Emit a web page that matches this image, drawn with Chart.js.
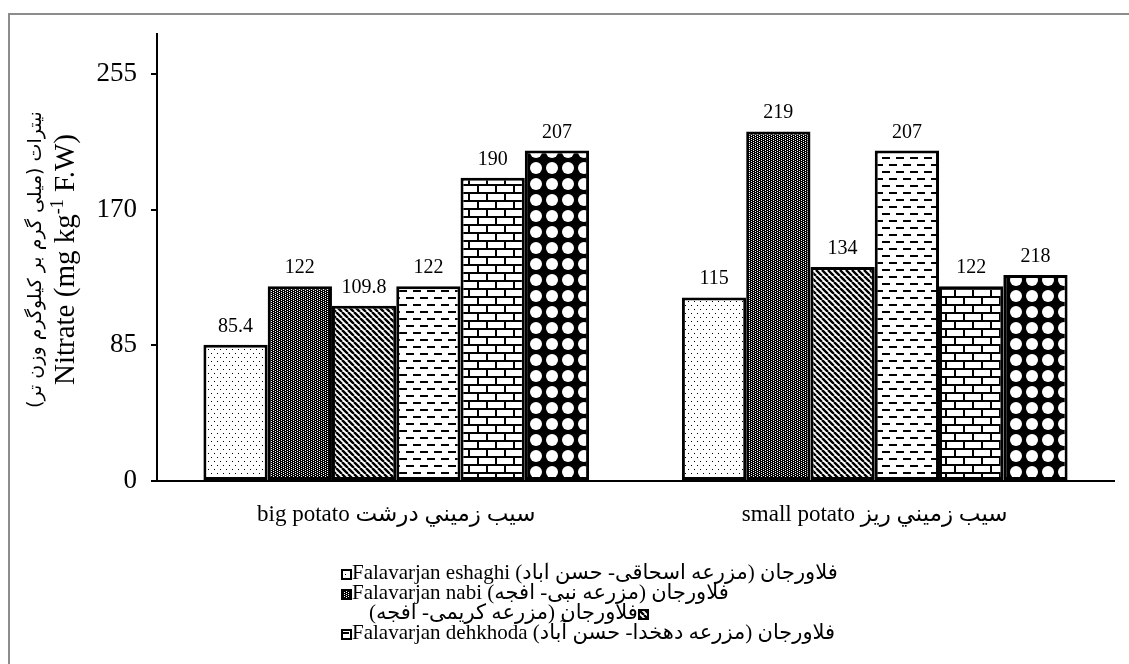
<!DOCTYPE html>
<html lang="fa">
  <head>
    <meta charset="UTF-8" />
    <title>Nitrate</title>
    <script src="https://cdn.jsdelivr.net/npm/chart.js"></script>
    <style>
      body {
        margin: 0;
        background: #fff;
        width: 1129px;
        height: 664px;
        overflow: hidden;
        position: relative;
        font-family: "Liberation Serif", "DejaVu Sans", serif;
      }
      .frame {
        position: absolute;
        left: 8px;
        top: 13px;
        width: 1200px;
        height: 700px;
        border-top: 2px solid #8c8c8c;
        border-left: 2px solid #8c8c8c;
      }
      #wrap {
        position: absolute;
        left: 0;
        top: 0;
      }
      #legend {
        position: absolute;
        left: 341px;
        top: 562px;
        height: 82px;
        overflow: hidden;
        font-size: 21px;
        line-height: 20px;
        color: #000;
      }
      #legend .row {
        white-space: nowrap;
        height: 20px;
      }
      #legend .row > span {
        display: inline-block;
      }
      #legend canvas {
        vertical-align: -1px;
      }
    </style>
  </head>
  <body>
    <div class="frame"></div>
    <div id="wrap"><canvas id="chart" width="1129" height="664"></canvas></div>
    <div id="legend"></div>

    <script>
      // données
      const categories = ["big potato سيب زميني درشت", "small potato سيب زميني ريز"];
      const seriesNames = [
        "فلاورجان (مزرعه اسحاقی- حسن آباد) Falavarjan eshaghi",
        "فلاورجان (مزرعه نبی- افجه) Falavarjan nabi",
        "فلاورجان (مزرعه کریمی- افجه)",
        "فلاورجان (مزرعه دهخدا- حسن آباد) Falavarjan dehkhoda",
        "Series 5",
        "Series 6",
      ];
      const eshaghi = [85.4, 115];
      const nabi = [122, 219];
      const karimi = [109.8, 134];
      const dehkhoda = [122, 207];
      const serie5 = [190, 122];
      const serie6 = [207, 129];
      // étiquettes affichées au-dessus des barres (telles qu'écrites sur la figure)
      const barLabels = [
        ["85.4", "115"],
        ["122", "219"],
        ["109.8", "134"],
        ["122", "207"],
        ["190", "122"],
        ["207", "218"],
      ];
      const yTicks = [0, 85, 170, 255];
      const yMax = 280;
      const yTitleFa = "نیترات (میلی گرم بر کیلوگرم وزن تر)";
      const yTitleEn = ["Nitrate (mg kg", "-1", " F.W)"];

      const FONT = "'Liberation Serif', 'DejaVu Sans', serif";

      function tile(w, h, draw) {
        const c = document.createElement("canvas");
        c.width = w;
        c.height = h;
        const g = c.getContext("2d");
        draw(g, w, h);
        return g.createPattern(c, "repeat");
      }

      const patterns = [
        // points clairsemés
        tile(6, 8, (g) => {
          g.fillStyle = "#fff";
          g.fillRect(0, 0, 6, 8);
          g.fillStyle = "#000";
          g.fillRect(1, 1, 1, 1);
          g.fillRect(4, 5, 1, 1);
        }),
        // trame dense sombre
        tile(4, 4, (g) => {
          g.fillStyle = "#000";
          g.fillRect(0, 0, 4, 4);
          g.fillStyle = "#fff";
          g.fillRect(1, 0, 1, 1);
          g.fillRect(1, 2, 1, 1);
          g.fillRect(3, 1, 1, 1);
          g.fillRect(3, 3, 1, 1);
        }),
        // diagonales
        tile(6, 6, (g) => {
          g.fillStyle = "#fff";
          g.fillRect(0, 0, 6, 6);
          g.strokeStyle = "#000";
          g.lineWidth = 2.4;
          g.beginPath();
          [-6, 0, 6].forEach((k) => {
            g.moveTo(k, 0);
            g.lineTo(k + 6, 6);
          });
          g.stroke();
        }),
        // tirets horizontaux
        tile(14, 14, (g) => {
          g.fillStyle = "#fff";
          g.fillRect(0, 0, 14, 14);
          g.fillStyle = "#000";
          g.fillRect(0, 3, 8, 2);
          g.fillRect(7, 10, 8, 2);
          g.fillRect(0, 10, 1, 2);
        }),
        // briques
        tile(18, 16, (g) => {
          g.fillStyle = "#fff";
          g.fillRect(0, 0, 18, 16);
          g.fillStyle = "#000";
          g.fillRect(0, 0, 18, 2);
          g.fillRect(0, 8, 18, 2);
          g.fillRect(0, 0, 2, 8);
          g.fillRect(9, 8, 2, 8);
        }),
        // ronds blancs sur noir
        tile(16, 16, (g) => {
          g.fillStyle = "#000";
          g.fillRect(0, 0, 16, 16);
          g.fillStyle = "#fff";
          g.beginPath();
          g.arc(8, 8, 6, 0, Math.PI * 2);
          g.fill();
        }),
      ];

      const seriesData = [eshaghi, nabi, karimi, dehkhoda, serie5, serie6];

      const datasets = seriesData.map((vals, i) => ({
        label: seriesNames[i],
        data: vals,
        backgroundColor: patterns[i],
        borderColor: "#000",
        borderWidth: 3,
        borderSkipped: false,
        barPercentage: 1,
        categoryPercentage: 0.806,
      }));

      const barValuesPlugin = {
        id: "barValues",
        afterDatasetsDraw(chart) {
          const ctx = chart.ctx;
          ctx.save();
          ctx.font = "20px " + FONT;
          ctx.fillStyle = "#000";
          ctx.textAlign = "center";
          ctx.textBaseline = "alphabetic";
          chart.data.datasets.forEach((ds, i) => {
            const meta = chart.getDatasetMeta(i);
            meta.data.forEach((bar, j) => {
              ctx.fillText(barLabels[i][j], bar.x, bar.y - 13);
            });
          });
          ctx.restore();
        },
      };

      // titre de l'axe Y sur deux lignes (persan + anglais avec exposant)
      const yTitlePlugin = {
        id: "yTitle",
        afterDraw(chart) {
          const ctx = chart.ctx;
          const a = chart.chartArea;
          const cy = (a.top + a.bottom) / 2 + 2;
          ctx.save();
          ctx.fillStyle = "#000";
          ctx.textBaseline = "middle";

          ctx.save();
          ctx.translate(36, cy);
          ctx.rotate(-Math.PI / 2);
          ctx.textAlign = "center";
          ctx.font = "19px 'DejaVu Sans'";
          ctx.fillText(yTitleFa, 0, 0);
          ctx.restore();

          ctx.save();
          ctx.translate(66, cy);
          ctx.rotate(-Math.PI / 2);
          ctx.textAlign = "left";
          const big = "29px 'Liberation Serif'";
          const small = "18px 'Liberation Serif'";
          ctx.font = big;
          const w0 = ctx.measureText(yTitleEn[0]).width;
          const w2 = ctx.measureText(yTitleEn[2]).width;
          ctx.font = small;
          const w1 = ctx.measureText(yTitleEn[1]).width;
          let x = -(w0 + w1 + w2) / 2;
          ctx.font = big;
          ctx.fillText(yTitleEn[0], x, 0);
          x += w0;
          ctx.font = small;
          ctx.fillText(yTitleEn[1], x, -8);
          x += w1;
          ctx.font = big;
          ctx.fillText(yTitleEn[2], x, 0);
          ctx.restore();

          ctx.restore();
        },
      };

      new Chart(document.getElementById("chart"), {
        type: "bar",
        data: { labels: categories, datasets: datasets },
        options: {
          responsive: false,
          animation: false,
          layout: { padding: { left: 0, top: 34, right: 15, bottom: 123 } },
          plugins: {
            legend: { display: false },
            tooltip: { enabled: false },
          },
          scales: {
            x: {
              grid: { display: false, drawTicks: false },
              border: { display: true, color: "#000", width: 2 },
              ticks: {
                color: "#000",
                padding: 20,
                font: { family: FONT, size: 23 },
              },
              afterFit: (s) => {
                s.height = 60;
              },
            },
            y: {
              min: 0,
              max: yMax,
              afterBuildTicks: (s) => {
                s.ticks = yTicks.map((v) => ({ value: v }));
              },
              grid: {
                drawOnChartArea: false,
                drawTicks: true,
                tickLength: 6,
                color: "#000",
                lineWidth: 2,
              },
              border: { display: true, color: "#000", width: 2 },
              ticks: {
                color: "#000",
                padding: 14,
                font: { family: FONT, size: 27 },
              },
              afterFit: (s) => {
                s.width = 157;
              },
            },
          },
        },
        plugins: [barValuesPlugin, yTitlePlugin],
      });

      // légende (HTML)
      const legendDiv = document.getElementById("legend");
      seriesNames.forEach((name, i) => {
        const row = document.createElement("div");
        row.className = "row";
        const inner = document.createElement("span");
        inner.dir = /[A-Za-z]/.test(name) ? "ltr" : "rtl";
        if (inner.dir === "rtl") inner.style.marginLeft = "28px";
        const mk = document.createElement("canvas");
        mk.width = 11;
        mk.height = 11;
        const g = mk.getContext("2d");
        g.fillStyle = patterns[i];
        g.fillRect(0, 0, 11, 11);
        g.strokeStyle = "#000";
        g.lineWidth = 2;
        g.strokeRect(1, 1, 9, 9);
        const txt = document.createElement("bdi");
        txt.dir = "rtl";
        txt.textContent = name;
        inner.appendChild(mk);
        inner.appendChild(txt);
        row.appendChild(inner);
        legendDiv.appendChild(row);
      });
    </script>
  </body>
</html>
